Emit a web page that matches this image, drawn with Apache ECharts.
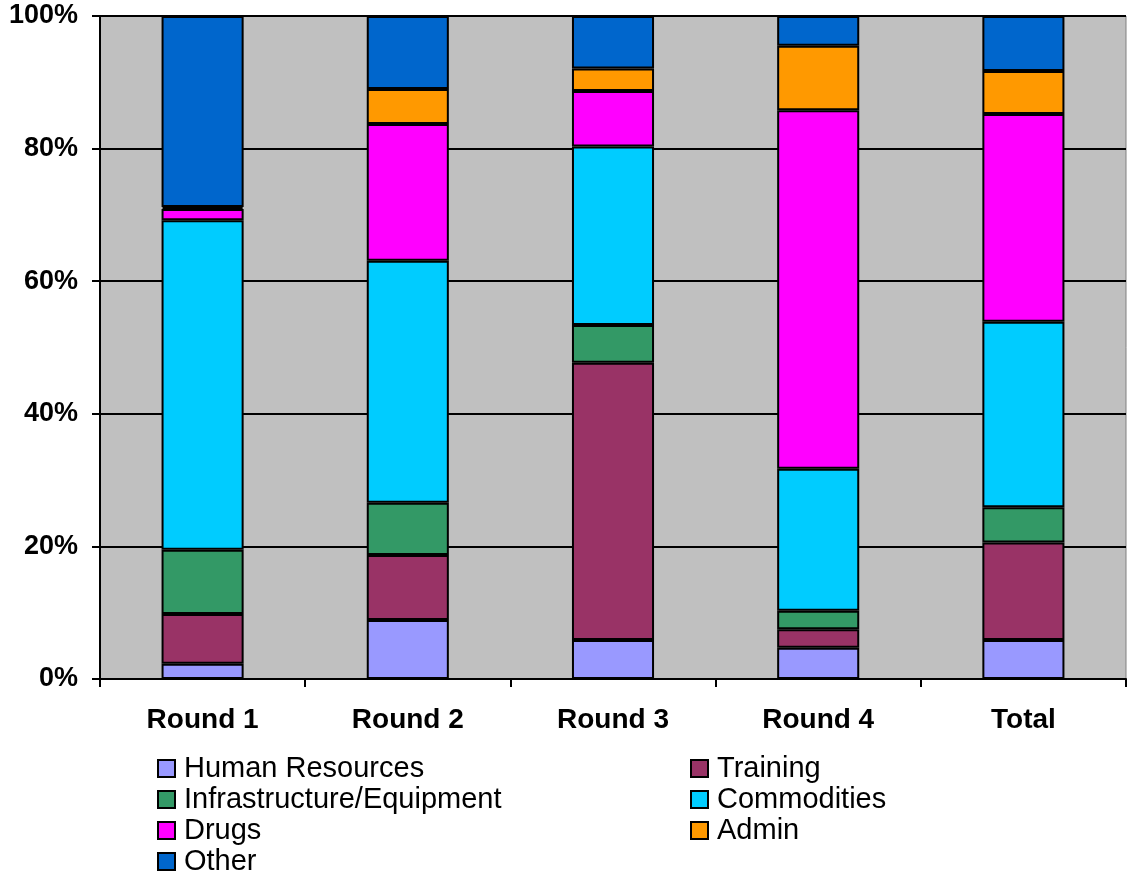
<!DOCTYPE html>
<html>
<head>
<meta charset="utf-8">
<title>Spending by round</title>
<script src="https://cdn.jsdelivr.net/npm/echarts@6/dist/echarts.min.js"></script>
<style>
    html, body { margin: 0; padding: 0; background: #fff; }
    #stacked_share { width: 1128px; height: 877px; }
</style>
</head>
<body>
<div id="stacked_share"></div>
<script>

// Chart data
// ------------------------------

var categories = ['Round 1', 'Round 2', 'Round 3', 'Round 4', 'Total'];
var yTicks = [0, 20, 40, 60, 80, 100];

var humanResources = [2.3, 8.9, 5.9, 4.7, 5.9];
var training       = [7.5, 9.8, 41.8, 2.8, 14.7];
var infrastructure = [9.7, 7.9, 5.7, 2.8, 5.3];
var commodities    = [49.7, 36.5, 26.9, 21.4, 28.0];
var drugs          = [1.7, 20.6, 8.4, 54.1, 31.3];
var admin          = [0.3, 5.3, 3.4, 9.7, 6.5];
var other          = [28.8, 11.0, 7.9, 4.5, 8.3];


// Setup module
// ------------------------------

var EchartsStackedShare = function() {

    var _stackedShareExample = function() {
        if (typeof echarts == 'undefined') {
            console.warn('Warning - echarts.min.js is not loaded.');
            return;
        }

        var element = document.getElementById('stacked_share');
        if (!element) {
            return;
        }

        var chart = echarts.init(element);
        var font = '"Liberation Sans", Arial, Helvetica, sans-serif';

        // One stacked bar series
        var makeSeries = function(name, color, data) {
            return {
                name: name,
                type: 'bar',
                stack: 'share',
                barWidth: '40%',
                animation: false,
                itemStyle: {
                    color: color,
                    borderColor: '#000',
                    borderWidth: 2
                },
                data: data
            };
        };

        // Legend block (one column)
        var makeLegend = function(left, names) {
            return {
                orient: 'vertical',
                left: left,
                top: 753,
                height: 130,
                padding: 0,
                itemGap: 0,
                itemWidth: 17,
                itemHeight: 17,
                icon: 'rect',
                itemStyle: {
                    borderColor: '#000',
                    borderWidth: 2
                },
                textStyle: {
                    fontFamily: font,
                    fontSize: 29,
                    color: '#000',
                    lineHeight: 31,
                    padding: [0, 0, 0, 4]
                },
                selectedMode: false,
                data: names
            };
        };

        chart.setOption({

            textStyle: {
                fontFamily: font
            },

            animation: false,

            grid: {
                show: true,
                left: 100,
                right: 2,
                top: 16,
                bottom: 198,
                backgroundColor: '#C0C0C0',
                borderColor: '#808080',
                borderWidth: 1
            },

            legend: [
                makeLegend(157, ['Human Resources', 'Infrastructure/Equipment', 'Drugs', 'Other']),
                makeLegend(690, ['Training', 'Commodities', 'Admin'])
            ],

            xAxis: {
                type: 'category',
                data: categories,
                axisLine: {
                    lineStyle: { color: '#000', width: 2 }
                },
                axisTick: {
                    show: true,
                    length: 8,
                    lineStyle: { color: '#000', width: 2 }
                },
                axisLabel: {
                    color: '#000',
                    fontWeight: 'bold',
                    fontSize: 28,
                    margin: 27
                }
            },

            yAxis: {
                type: 'value',
                min: yTicks[0],
                max: yTicks[yTicks.length - 1],
                interval: yTicks[1] - yTicks[0],
                axisLine: {
                    show: true,
                    lineStyle: { color: '#000', width: 2 }
                },
                axisTick: {
                    show: true,
                    length: 8,
                    lineStyle: { color: '#000', width: 2 }
                },
                axisLabel: {
                    color: '#000',
                    fontWeight: 'bold',
                    fontSize: 27,
                    margin: 22,
                    formatter: '{value}%'
                },
                splitLine: {
                    show: true,
                    lineStyle: { color: '#000', width: 2 }
                }
            },

            series: [
                makeSeries('Human Resources', '#9999FF', humanResources),
                makeSeries('Training', '#993366', training),
                makeSeries('Infrastructure/Equipment', '#339966', infrastructure),
                makeSeries('Commodities', '#00CCFF', commodities),
                makeSeries('Drugs', '#FF00FF', drugs),
                makeSeries('Admin', '#FF9900', admin),
                makeSeries('Other', '#0066CC', other)
            ]
        });
    };

    return {
        init: function() {
            _stackedShareExample();
        }
    }
}();


// Initialize module
// ------------------------------

document.addEventListener('DOMContentLoaded', function() {
    EchartsStackedShare.init();
});
</script>
</body>
</html>
